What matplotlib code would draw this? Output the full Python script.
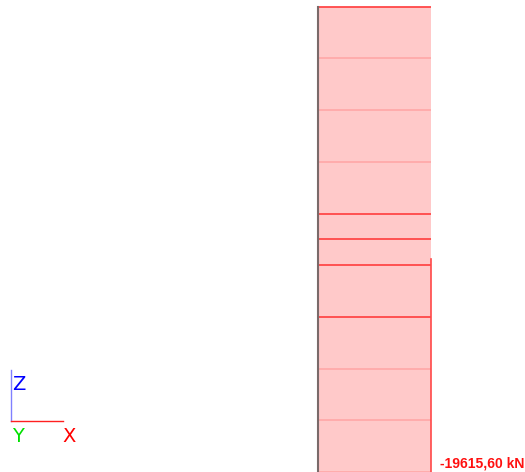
import matplotlib
matplotlib.use("Agg")
import matplotlib.pyplot as plt

# column node elevations (m) and axial force per segment (kN)
levels = [-1.0, 0.0, 1.0, 2.0, 3.0, 4.0, 4.5, 5.0, 6.0, 7.0, 8.0, 9.0]
forces = [-19615.60] * (len(levels) - 1)
# which section lines are element ends (strong) vs. intermediate (faint)
strong = [False, False, False, True, True, True, True, False, False, False, True]
label = "-19615,60 kN"

scale = 113 / 19615.60      # diagram px per kN
px_m = 51.7                 # px per metre

fig = plt.figure(figsize=(5.25, 4.72), dpi=100)
ax = fig.add_axes([0, 0, 1, 1])
ax.set_xlim(-318, 207)
ax.set_ylim(0, 472)
ax.axis("off")

fill_c = "#ffc9c9"
red = "#ff4848"
faint = "#ffa9a9"

for i in range(len(forces)):
    y0 = levels[i] * px_m
    y1 = levels[i + 1] * px_m
    w = -forces[i] * scale
    ax.fill_between([0, w], y0, y1, color=fill_c, lw=0)

for lv, s in zip(levels[1:], strong):
    w = -forces[0] * scale
    ax.plot([0, w], [lv * px_m, lv * px_m], color=red if s else faint,
            lw=1.3, solid_capstyle="butt")

# right outline of the lower part
w = -forces[0] * scale
ax.plot([w, w], [levels[0] * px_m, 4.12 * px_m], color=red, lw=1.2)

# column member
ax.plot([0, 0], [levels[0] * px_m, levels[-1] * px_m], color="#7a6a6a", lw=1.5)

ax.text(206, 8, label, color="#ff1010", fontsize=10.1, fontweight="bold",
        family="Liberation Sans", ha="right", va="center")

# axis triad
ox, oy = -307, 51
ax.plot([ox, ox], [oy, oy + 51], color="#8080ff", lw=1)
ax.plot([ox, ox + 52], [oy, oy], color="#ff2020", lw=1)
ax.text(ox + 1, oy + 37, "Z", color="#0000ff", fontsize=14, family="DejaVu Sans",
        ha="left", va="center")
ax.text(ox + 1, oy - 15, "Y", color="#00e000", fontsize=14, family="DejaVu Sans",
        ha="left", va="center")
ax.text(ox + 51, oy - 15, "X", color="#ff0000", fontsize=14, family="DejaVu Sans",
        ha="left", va="center")

fig.savefig("out.png", dpi=100, facecolor="white")
